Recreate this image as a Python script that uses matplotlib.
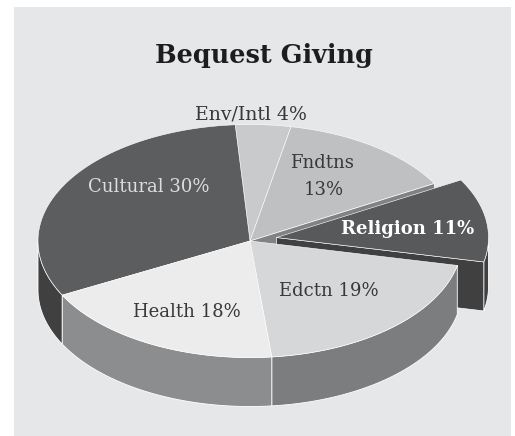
#!/usr/bin/env python3
"""Bequest giving shown as a tilted 3-D pie with one slice pulled out."""

import numpy as np
import matplotlib
matplotlib.use("Agg")
import matplotlib.pyplot as plt
from matplotlib.patches import Polygon, Rectangle

# ── Data ───────────────────────────────────────────────────────────────────

NAMES = ["Cultural", "Health", "Edctn", "Religion", "Fndtns", "Env/Intl"]
SHARES = [30, 18, 19, 11, 13, 4]

# ── Display config ─────────────────────────────────────────────────────────

TOP_COLOR = {
    "Cultural": "#5c5d5f",
    "Health":   "#ececed",
    "Edctn":    "#d6d7d9",
    "Religion": "#58595b",
    "Fndtns":   "#bfc0c2",
    "Env/Intl": "#c9cacc",
}
WALL_COLOR = {
    "Cultural": "#404041",
    "Health":   "#8c8d8f",
    "Edctn":    "#7c7d7f",
    "Religion": "#404041",
    "Fndtns":   "#808285",
    "Env/Intl": "#808285",
}
BG = "#e6e7e9"
CX, CY = 250, 241
RX, RY = 212, 116.5
DEPTH = 49
START = 94.0
PULL = (26.5, -3.5)   # offset of the pulled-out slice
SERIF = "DejaVu Serif"
LABEL_SIZE = 13


def spans():
    """Start/end angle of each slice, running counter-clockwise."""
    fracs = np.array(SHARES) / sum(SHARES)
    edges = START + np.concatenate([[0], np.cumsum(fracs)]) * 360
    return {n: (edges[i], edges[i + 1]) for i, n in enumerate(NAMES)}


def rim(a0, a1, dx=0, dy=0):
    t = np.radians(np.linspace(a0, a1, 80))
    return np.column_stack([CX + dx + RX * np.cos(t), CY + dy - RY * np.sin(t)])


def draw_walls(ax, name, a0, a1, dx=0, dy=0):
    # outer wall: only the part of the rim on the near side
    for lo, hi in [(a0, a1), (a0 - 360, a1 - 360), (a0 + 360, a1 + 360)]:
        lo, hi = max(lo, 180), min(hi, 360)
        if lo < hi:
            top = rim(lo, hi, dx, dy)
            low = top[::-1] + [0, DEPTH]
            ax.add_patch(Polygon(np.vstack([top, low]), fc=WALL_COLOR[name],
                                 ec="white", lw=0.6))


def draw_top(ax, name, a0, a1, dx=0, dy=0):
    pts = np.vstack([[CX + dx, CY + dy], rim(a0, a1, dx, dy)])
    ax.add_patch(Polygon(pts, fc=TOP_COLOR[name], ec="white", lw=0.4))


def cut_face(ax, name, angle, dx=0, dy=0):
    """Flat face left by a slice where it was cut along a radius."""
    p = rim(angle, angle, dx, dy)[0]
    c = np.array([CX + dx, CY + dy])
    pts = np.array([c, p, p + [0, DEPTH], c + [0, DEPTH]])
    ax.add_patch(Polygon(pts, fc=WALL_COLOR[name], ec="white", lw=0.5))


def label(ax, x, y, text, color="#38383a", **kw):
    ax.text(x, y, text, ha="center", va="center", family=SERIF,
            fontsize=kw.pop("fontsize", LABEL_SIZE), color=color, **kw)


def main():
    fig = plt.figure(figsize=(5.15, 4.36), dpi=100, facecolor="white")
    ax = fig.add_axes([0, 0, 1, 1])
    ax.set_xlim(0, 515)
    ax.set_ylim(436, 0)
    ax.axis("off")
    ax.add_patch(Rectangle((14, 7), 497, 429, fc=BG, ec="none"))

    ang = spans()

    # back to front: far slices first, the Edctn and Health tops last
    for name in ["Env/Intl", "Fndtns", "Cultural"]:
        draw_walls(ax, name, *ang[name])
        draw_top(ax, name, *ang[name])
    cut_face(ax, "Fndtns", ang["Fndtns"][0])

    draw_walls(ax, "Religion", *ang["Religion"], *PULL)
    cut_face(ax, "Religion", ang["Religion"][0], *PULL)
    draw_top(ax, "Religion", *ang["Religion"], *PULL)

    for name in ["Edctn", "Health"]:
        draw_walls(ax, name, *ang[name])
        draw_top(ax, name, *ang[name])

    pct = dict(zip(NAMES, SHARES))
    label(ax, 264, 55.5, "Bequest Giving", color="#1d1d1f", fontsize=18.4,
          fontweight="bold")
    label(ax, 251, 114.5, f"Env/Intl {pct['Env/Intl']}%", fontsize=13.6)
    label(ax, 322, 163, "Fndtns")
    label(ax, 324, 190, f"{pct['Fndtns']}%")
    label(ax, 408, 229, f"Religion {pct['Religion']}%", color="white",
          fontweight="bold")
    label(ax, 329, 291, f"Edctn {pct['Edctn']}%")
    label(ax, 187, 312, f"Health {pct['Health']}%")
    label(ax, 149, 187, f"Cultural {pct['Cultural']}%", color="#dcddde")

    fig.savefig("out.png", dpi=100, facecolor="white")
    plt.close(fig)


if __name__ == "__main__":
    main()
